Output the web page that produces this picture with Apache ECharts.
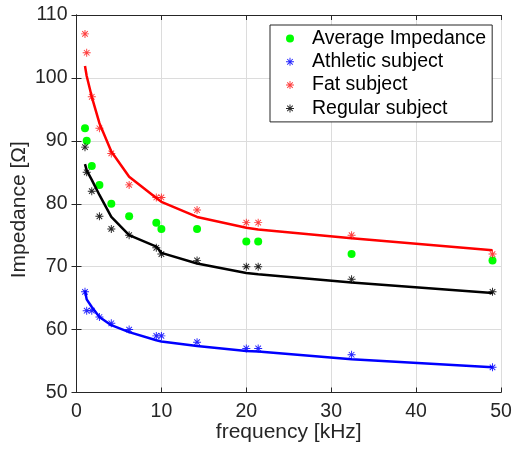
<!DOCTYPE html>
<html>
<head>
<meta charset="utf-8">
<script src="https://cdn.jsdelivr.net/npm/echarts@6/dist/echarts.min.js"></script>
<style>
html,body{margin:0;padding:0;background:#fff;}
#c{width:514px;height:452px;}
</style>
</head>
<body>
<div id="c"></div>
<script>
const freq = [1, 1.2, 1.8, 2.7, 4.1, 6.2, 9.4, 10, 14.2, 20, 21.4, 32.4, 49];
const average = [92, 90, 86, 83, 80, 78, 77, 76, 76, 74, 74, 72, 71];
const athletic = [66, 63, 63, 62, 61, 60, 59, 59, 58, 57, 57, 56, 54];
const fat = [107, 104, 97, 92, 88, 83, 81, 81, 79, 77, 77, 75, 72];
const regular = [89, 85, 82, 78, 76, 75, 73, 72, 71, 70, 70, 68, 66];
const athleticFit = [66.2, 64.8, 63.6, 62.0, 60.7, 59.6, 58.3, 58.1, 57.4, 56.6, 56.5, 55.3, 54.0];
const fatFit = [101.9, 100.3, 97.0, 92.8, 88.3, 84.3, 80.9, 80.3, 77.9, 76.2, 75.9, 74.5, 72.6];
const regularFit = [86.3, 85.3, 83.8, 81.4, 77.9, 75.0, 73.2, 72.2, 70.5, 69.0, 68.8, 67.5, 65.8];
const xTicks = [0, 10, 20, 30, 40, 50];
const yTicks = [50, 60, 70, 80, 90, 100, 110];
const seriesNames = ['Average Impedance', 'Athletic subject', 'Fat subject', 'Regular subject'];

const pair = (ys) => freq.map((f, i) => [f, ys[i]]);
const star = 'path://M0 8.8L20 8.8L20 11.2L0 11.2Z M8.8 0L11.2 0L11.2 20L8.8 20Z M2.2 3.9L3.9 2.2L17.8 16.1L16.1 17.8Z M16.1 2.2L17.8 3.9L3.9 17.8L2.2 16.1Z';
const axisCol = '#262626';
const font = 'Liberation Sans, Arial, Helvetica, sans-serif';

const chart = echarts.init(document.getElementById('c'), null, {renderer: 'canvas'});
const xBase = {
  type: 'value', min: xTicks[0], max: xTicks[xTicks.length - 1], interval: 10,
  axisLine: {show: true, lineStyle: {color: axisCol, width: 1}},
  axisTick: {show: true, inside: true, length: 5, lineStyle: {color: axisCol}}
};
const yBase = {
  type: 'value', min: yTicks[0], max: yTicks[yTicks.length - 1], interval: 10,
  axisLine: {show: true, lineStyle: {color: axisCol, width: 1}},
  axisTick: {show: true, inside: true, length: 5, lineStyle: {color: axisCol}}
};
const option = {
  backgroundColor: '#fff',
  animation: false,
  textStyle: {fontFamily: font},
  grid: {left: 76.5, right: 13, top: 15, bottom: 59.5, containLabel: false, outerBoundsMode: 'none'},
  xAxis: [
    Object.assign({}, xBase, {
      position: 'bottom',
      name: 'frequency [kHz]', nameLocation: 'middle', nameGap: 29, nameMoveOverlap: false,
      nameTextStyle: {fontSize: 21, color: axisCol, fontFamily: font},
      axisLabel: {fontSize: 19.5, color: axisCol, margin: 9, fontFamily: font},
      splitLine: {show: true, lineStyle: {color: '#dcdcdc', width: 1}}
    }),
    Object.assign({}, xBase, {position: 'top', axisLabel: {show: false}, splitLine: {show: false}})
  ],
  yAxis: [
    Object.assign({}, yBase, {
      position: 'left',
      name: 'Impedance [Ω]', nameLocation: 'middle', nameGap: 47, nameMoveOverlap: false,
      nameTextStyle: {fontSize: 21, color: axisCol, fontFamily: font, padding: [0, 12, 0, 0]},
      axisLabel: {fontSize: 19.5, color: axisCol, margin: 9, fontFamily: font},
      splitLine: {show: true, lineStyle: {color: '#dcdcdc', width: 1}}
    }),
    Object.assign({}, yBase, {position: 'right', axisLabel: {show: false}, splitLine: {show: false}})
  ],
  legend: {
    orient: 'vertical', left: 270, top: 25,
    padding: [3.5, 6, 3.5, 16],
    itemWidth: 34, itemHeight: 8, itemGap: 3.3,
    backgroundColor: '#fff', borderColor: axisCol, borderWidth: 1, borderRadius: 0,
    textStyle: {fontSize: 19.5, lineHeight: 19, color: '#000', fontFamily: font},
    data: seriesNames
  },
  series: [
    {name: seriesNames[0], type: 'scatter', data: pair(average), symbol: 'circle', symbolSize: 8,
     itemStyle: {color: '#00ff00', opacity: 1}, z: 3},
    {name: seriesNames[1], type: 'scatter', data: pair(athletic), symbol: star, symbolSize: 8,
     itemStyle: {color: '#0000ff', opacity: 0.85}, z: 3},
    {name: seriesNames[2], type: 'scatter', data: pair(fat), symbol: star, symbolSize: 8,
     itemStyle: {color: '#ff0000', opacity: 0.75}, z: 3},
    {name: seriesNames[3], type: 'scatter', data: pair(regular), symbol: star, symbolSize: 8,
     itemStyle: {color: '#000000', opacity: 0.85}, z: 3},
    {name: 'athleticFit', type: 'line', data: pair(athleticFit), showSymbol: false, symbol: 'none',
     lineStyle: {color: '#0000ff', width: 2.5}, z: 4},
    {name: 'fatFit', type: 'line', data: pair(fatFit), showSymbol: false, symbol: 'none',
     lineStyle: {color: '#ff0000', width: 2.5}, z: 4},
    {name: 'regularFit', type: 'line', data: pair(regularFit), showSymbol: false, symbol: 'none',
     lineStyle: {color: '#000000', width: 2.5}, z: 4}
  ]
};
chart.setOption(option);
</script>
</body>
</html>
